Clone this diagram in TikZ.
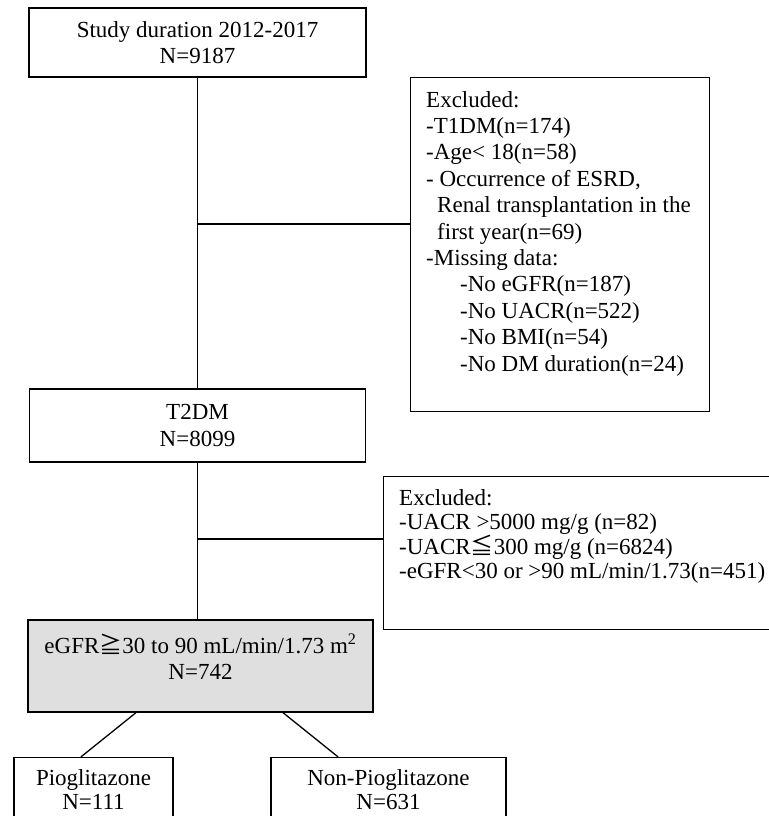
\documentclass[tikz,border=0pt]{standalone}
\usepackage{fontspec}
\setmainfont{Liberation Serif}
\newfontfamily\cjkfont{Noto Sans CJK JP}
\usetikzlibrary{positioning}
\definecolor{boxgray}{RGB}{223,223,223}
\newcommand{\cjkleq}{{\cjkfont ≦}}
\newcommand{\cjkgeq}{{\cjkfont ≧}}
\tikzstyle{stage} = [rectangle, draw=black, line width=1.3pt, inner sep=0pt, text centered, align=center]
\tikzstyle{excl} = [rectangle, draw=black, line width=1.3pt, inner sep=0pt, anchor=north west]
\tikzstyle{exlist} = [inner sep=0pt, anchor=north west, align=left]
\tikzstyle{link} = [line width=1.3pt]

\begin{document}
\begin{tikzpicture}[x=1pt, y=-1pt, font=\fontsize{23}{26.5}\selectfont]
\useasboundingbox (0,0) rectangle (768,816);

% main stages
\node (study) [stage, minimum width=337pt, minimum height=69pt] at (197.5,42.5) {Study duration 2012-2017\\N=9187};
\node (t2dm) [stage, minimum width=336pt, minimum height=73pt] at (197.5,425.5) {T2DM\\N=8099};
\node (egfr) [stage, fill=boxgray, minimum width=345pt, minimum height=92pt] at (200.5,666) {};
\node (egfrtext) [align=center, inner sep=0pt] at ([yshift=9.5pt]egfr.center) {eGFR\cjkgeq 30 to 90 mL/min/1.73 m\textsuperscript{2}\\N=742};
\node (pio) [stage, font=\fontsize{23}{24.5}\selectfont, minimum width=159pt, minimum height=64pt] at (93.5,789.5) {Pioglitazone\\N=111};
\node (nonpio) [stage, font=\fontsize{23}{24.5}\selectfont, minimum width=235pt, minimum height=64pt] at (388.5,789.5) {Non-Pioglitazone\\N=631};

% exclusion boxes
\node (ex1) [excl, minimum width=299pt, minimum height=334pt] at (410,77) {};
\node (ex1list) [exlist, font=\fontsize{23}{26.4}\selectfont] at ([shift={(16pt,-14pt)}]ex1.north west) {Excluded:\\
-T1DM(n=174)\\
-Age< 18(n=58)\\
- Occurrence of ESRD,\\
\hspace*{11pt}Renal transplantation in the\\
\hspace*{11pt}first year(n=69)\\
-Missing data:\\
\hspace*{34pt}-No eGFR(n=187)\\
\hspace*{34pt}-No UACR(n=522)\\
\hspace*{34pt}-No BMI(n=54)\\
\hspace*{34pt}-No DM duration(n=24)};

\node (ex2) [excl, minimum width=389pt, minimum height=153pt] at (383,476) {};
\node (ex2list) [exlist, font=\fontsize{23}{24}\selectfont] at ([shift={(16pt,-13pt)}]ex2.north west) {Excluded:\\
-UACR >5000 mg/g (n=82)\\
-UACR\cjkleq 300 mg/g (n=6824)\\
-eGFR<30 or >90 mL/min/1.73(n=451)};

% connectors
\coordinate (split1) at (study.south |- 0,224);
\coordinate (split2) at (t2dm.south |- 0,539);
\draw [link] (study.south) -- (study.south |- t2dm.north);
\draw [link] (split1) -- (split1 -| ex1.west);
\draw [link] (t2dm.south) -- (t2dm.south |- egfr.north);
\draw [link] (split2) -- (split2 -| ex2.west);
\draw [link] ([xshift=-64.5pt]egfr.south) -- ([xshift=-12.5pt]pio.north);
\draw [link] ([xshift=82.5pt]egfr.south) -- ([xshift=-50.5pt]nonpio.north);
\end{tikzpicture}
\end{document}
